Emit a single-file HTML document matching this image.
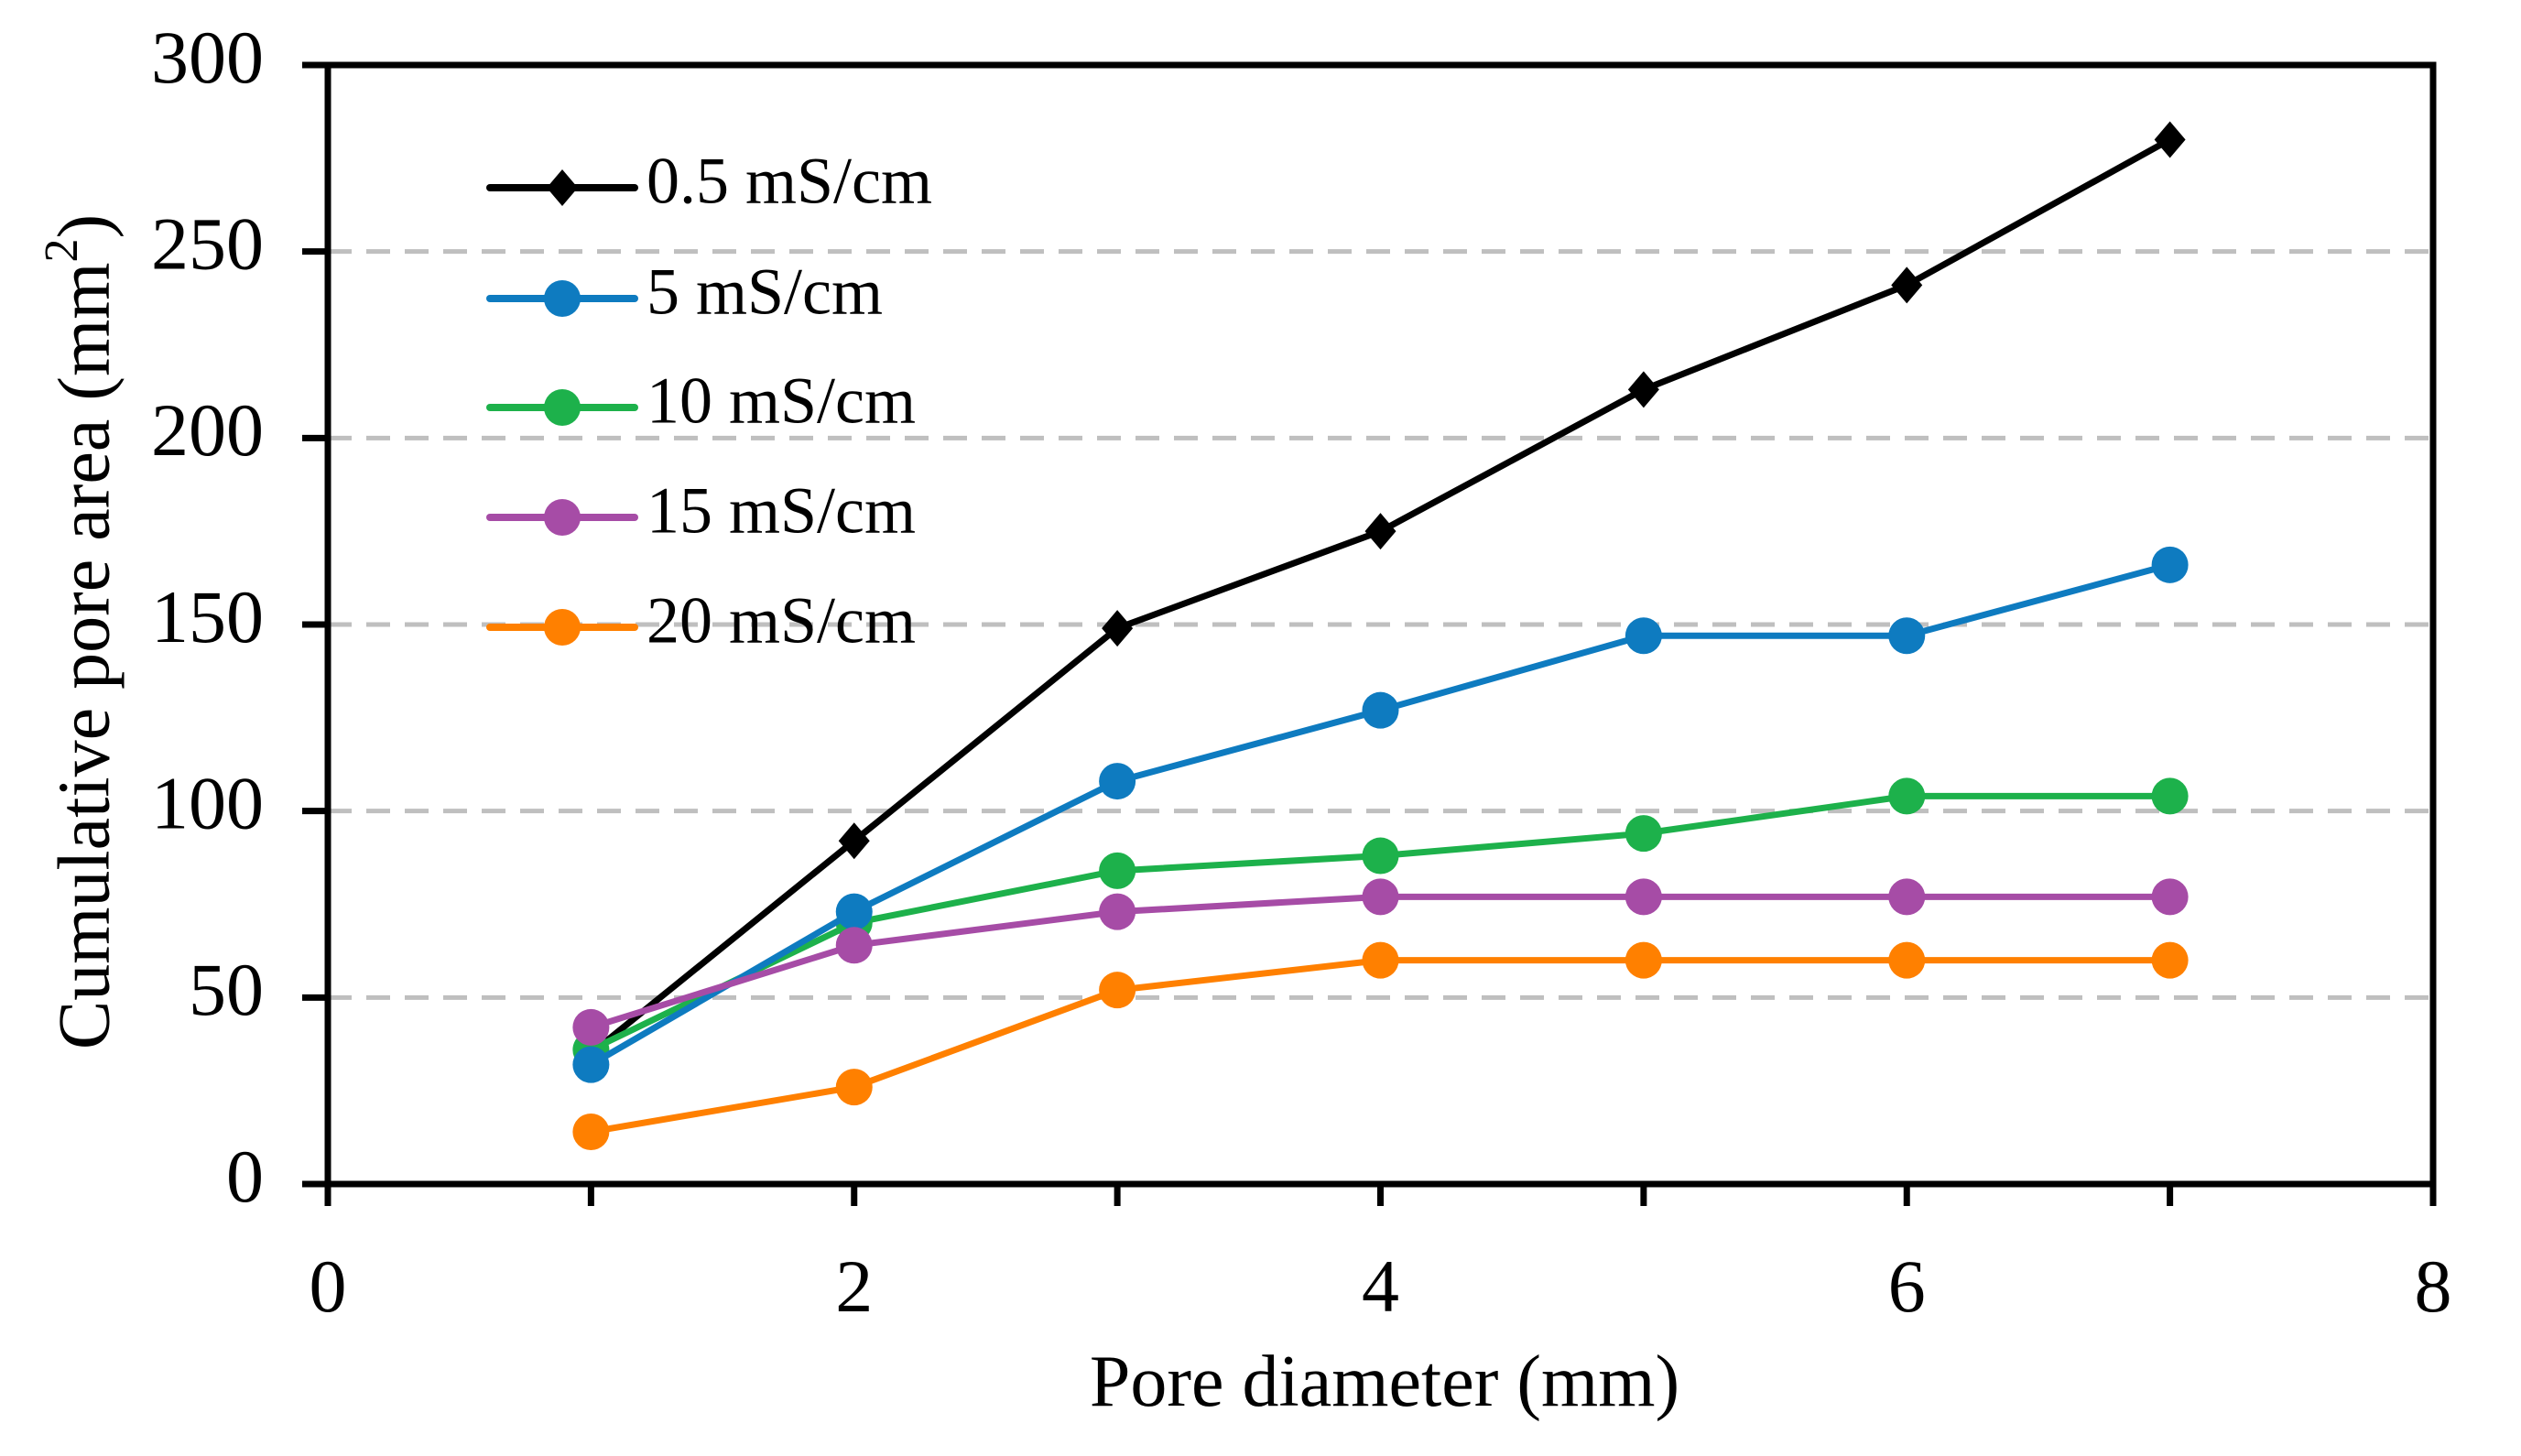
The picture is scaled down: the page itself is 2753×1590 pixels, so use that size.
<!DOCTYPE html>
<html><head><meta charset="utf-8"><style>
html,body{margin:0;padding:0;background:#fff;}
svg{display:block;font-family:"Liberation Serif",serif;}
</style></head><body>
<svg id="chart" width="2753" height="1590" viewBox="0 0 2753 1590">
<g id="grid"></g>
<g id="series"></g>
<g id="axes"></g>
<g id="legend"></g>
<text x="100" y="690" transform="rotate(-90 100 690)" text-anchor="middle" dominant-baseline="middle" font-size="80">Cumulative pore area (mm<tspan dy="-28" font-size="52">2</tspan><tspan dy="28">)</tspan></text>
<text x="1512" y="1535" text-anchor="middle" font-size="80">Pore diameter (mm)</text>
</svg>
<script>
const xValues = [1,2,3,4,5,6,7];
const seriesNames = ["0.5 mS/cm","5 mS/cm","10 mS/cm","15 mS/cm","20 mS/cm"];
const s05 = [35,92,149,175,213,241,280];
const s5 = [32,73,108,127,147,147,166];
const s10 = [36,70,84,88,94,104,104];
const s15 = [42,64,73,77,77,77,77];
const s20 = [14,26,52,60,60,60,60];
const yTicks = [0,50,100,150,200,250,300];
const xTicks = [0,2,4,6,8];
const xMinor = [1,3,5,7];

const NS="http://www.w3.org/2000/svg";
const L=358,R=2657,T=71,B=1293;
const xs=v=>L+(v-0)/8*(R-L);
const ys=v=>B-(v-0)/300*(B-T);
function mk(tag,attrs,parent){const e=document.createElementNS(NS,tag);for(const k in attrs)e.setAttribute(k,attrs[k]);parent.appendChild(e);return e;}
const grid=document.getElementById('grid'),axes=document.getElementById('axes'),ser=document.getElementById('series'),leg=document.getElementById('legend');

yTicks.forEach(v=>{
  if(v>0&&v<300){const g=mk('line',{x1:L,x2:R,y1:ys(v),y2:ys(v),stroke:'#bfbfbf','stroke-width':5,'stroke-dasharray':'26 16'},grid);
  
  }
  const t=mk('line',{x1:L-28,x2:L,y1:ys(v),y2:ys(v),stroke:'#000','stroke-width':7},axes);
  
  
  const tx=mk('text',{x:288,y:ys(v),'text-anchor':'end','dominant-baseline':'middle','font-size':82},axes);
  tx.textContent=v;
  
  
});
xTicks.concat(xMinor).forEach(v=>{
  const t=mk('line',{x1:xs(v),x2:xs(v),y1:B,y2:B+24,stroke:'#000','stroke-width':7},axes);
  
  
});
xTicks.forEach(v=>{
  const tx=mk('text',{x:xs(v),y:1432,'text-anchor':'middle','font-size':82},axes);
  tx.textContent=v;
  
  
});
const frame=mk('rect',{x:L,y:T,width:R-L,height:B-T,fill:'none',stroke:'#000','stroke-width':7},axes);



const all=[s05,s5,s10,s15,s20];
const colors=['#000000','#0e7bc0','#1db14b','#a64ca6','#ff8000'];
const slugs=['0-5','5','10','15','20'];
function marker(i,cx,cy,parent){
  if(i===0){return mk('polygon',{points:`${cx},${cy-20} ${cx+17},${cy} ${cx},${cy+20} ${cx-17},${cy}`,fill:colors[i]},parent);}
  return mk('ellipse',{cx:cx,cy:cy,rx:20,ry:20,fill:colors[i]},parent);
}
const order=[0,4,2,1,3];
order.forEach(i=>{
  const g=mk('g',{},ser);
  
  
  const p=mk('polyline',{points:xValues.map((x,j)=>xs(x)+','+ys(all[i][j])).join(' '),fill:'none',stroke:colors[i],'stroke-width':7,'stroke-linejoin':'round'},g);
  
  
  xValues.forEach((x,j)=>{const m=marker(i,xs(x),ys(all[i][j]),g);
    
    });
});
const legY=[205,326,445,565,685];
seriesNames.forEach((n,i)=>{
  const g=mk('g',{},leg);
  
  
  mk('line',{x1:535,x2:693,y1:legY[i],y2:legY[i],stroke:colors[i],'stroke-width':8,'stroke-linecap':'round'},g);
  marker(i,614,legY[i],g);
  const t=mk('text',{x:706,y:legY[i],'dominant-baseline':'middle','font-size':72},g);
  t.textContent=n;
});
</script>
</body></html>
